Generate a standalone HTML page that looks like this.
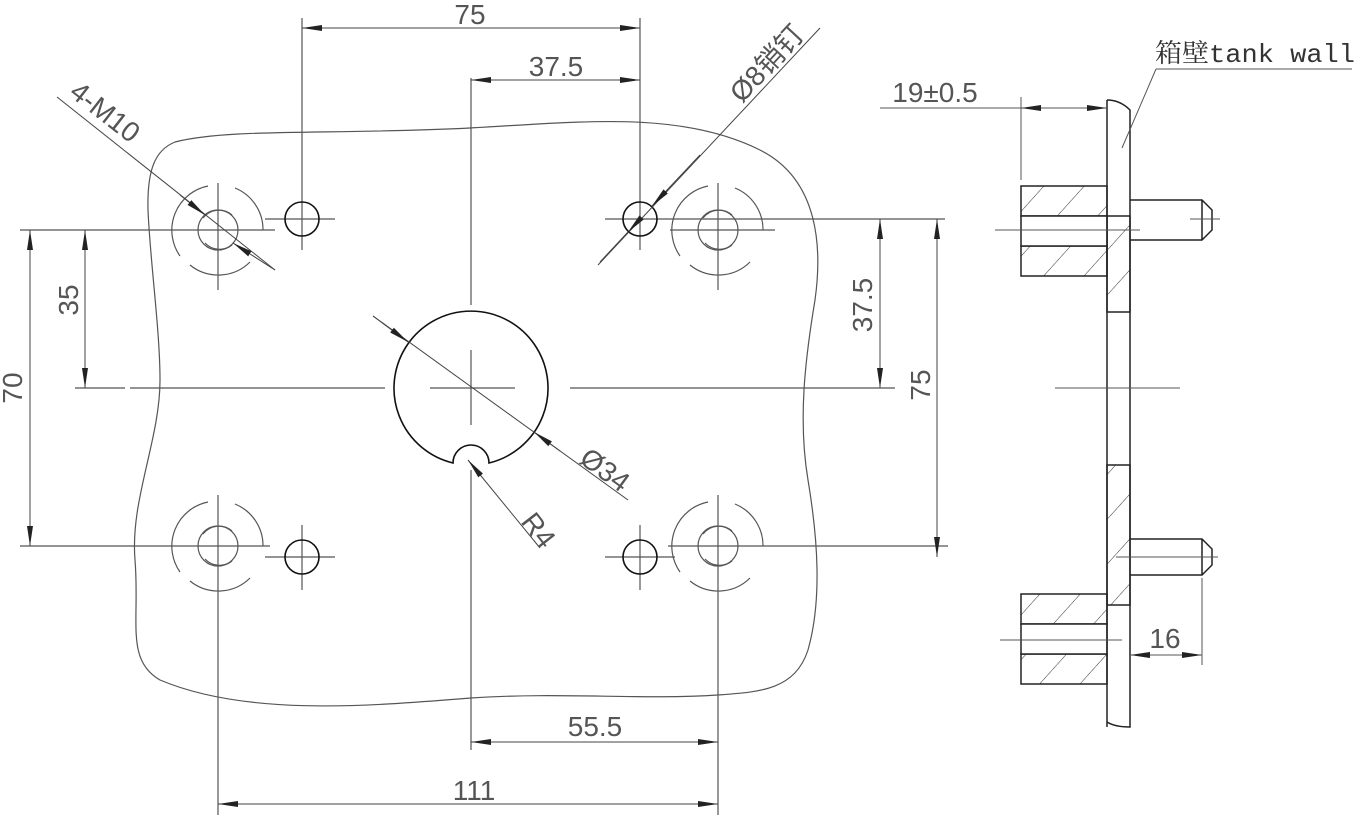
<!DOCTYPE html>
<html><head><meta charset="utf-8"><style>
html,body{margin:0;padding:0;background:#fff;}
svg{display:block;}
text{font-family:"Liberation Sans","Noto Sans CJK SC",sans-serif;fill:#555;font-size:28px;}
</style></head><body>
<svg width="1361" height="818" viewBox="0 0 1361 818" xmlns="http://www.w3.org/2000/svg">
<defs>
<marker id="a" viewBox="0 0 20 8" refX="20" refY="4" markerWidth="20" markerHeight="8" markerUnits="userSpaceOnUse" orient="auto"><path d="M0,1 L20,4 L0,7Z" fill="#222"/></marker>
<marker id="b" viewBox="0 0 20 8" refX="0" refY="4" markerWidth="20" markerHeight="8" markerUnits="userSpaceOnUse" orient="auto"><path d="M20,1 L0,4 L20,7Z" fill="#222"/></marker>
<pattern id="h" patternUnits="userSpaceOnUse" width="30" height="30" patternTransform="rotate(42)"><line x1="0" y1="0" x2="0" y2="30" stroke="#333" stroke-width="1"/></pattern>
</defs>
<g fill="none" stroke="#555" stroke-width="1.2">
<path d="M175,142 C230,128 330,135 470,128 C580,122 680,110 760,150 C820,180 822,250 815,300 C805,360 798,420 808,480 C818,540 822,600 808,650 C795,690 760,692 718,695 C640,700 560,692 471,698 C380,705 250,718 160,680 C125,660 140,620 135,560 C130,500 160,440 160,380 C160,330 150,260 148,210 C147,170 155,150 175,142Z"/>
<line x1="75" y1="388" x2="125" y2="388"/><line x1="130" y1="388" x2="385" y2="388"/>
<line x1="430" y1="388" x2="515" y2="388"/><line x1="570" y1="388" x2="895" y2="388"/>
<line x1="471" y1="78" x2="471" y2="305"/><line x1="471" y1="350" x2="471" y2="425"/><line x1="471" y1="470" x2="471" y2="750"/>
<line x1="20" y1="230" x2="275" y2="230"/><line x1="218" y1="183" x2="218" y2="290"/>
<line x1="20" y1="546" x2="270" y2="546"/><line x1="218" y1="495" x2="218" y2="815"/>
<line x1="670" y1="230" x2="775" y2="230"/><line x1="718" y1="183" x2="718" y2="290"/>
<line x1="668" y1="546" x2="948" y2="546"/><line x1="718" y1="495" x2="718" y2="815"/>
<line x1="265" y1="219" x2="335" y2="219"/><line x1="302" y1="18" x2="302" y2="250"/>
<line x1="265" y1="557" x2="335" y2="557"/><line x1="302" y1="525" x2="302" y2="590"/>
<line x1="605" y1="219" x2="945" y2="219"/><line x1="640" y1="18" x2="640" y2="250"/>
<line x1="605" y1="557" x2="675" y2="557"/><line x1="640" y1="525" x2="640" y2="590"/>
<g id="bh">
<circle cx="218" cy="230" r="20"/>
<path d="M203,218 A20,20 0 0 1 232,215"/><path d="M232,245 A20,20 0 0 1 205,243"/>
<path d="M180,256 A45,45 0 0 1 208,186"/><path d="M235,188 A45,45 0 0 1 263,230"/><path d="M250,262 A45,45 0 0 1 190,265"/>
</g>
<use href="#bh" x="500"/><use href="#bh" y="316"/><use href="#bh" x="500" y="316"/>
</g>
<g fill="none" stroke="#111" stroke-width="1.6">
<circle cx="302" cy="219" r="17"/><circle cx="640" cy="219" r="17"/>
<circle cx="302" cy="557" r="17"/><circle cx="640" cy="557" r="17"/>
<path d="M453,463 A77,77 0 1 1 489,463 A18,18 0 0 0 453,463Z"/>
</g>
<g fill="none" stroke="#444" stroke-width="1">
<line x1="302" y1="28" x2="640" y2="28" marker-start="url(#b)" marker-end="url(#a)"/>
<line x1="471" y1="80" x2="640" y2="80" marker-start="url(#b)" marker-end="url(#a)"/>
<line x1="471" y1="742" x2="718" y2="742" marker-start="url(#b)" marker-end="url(#a)"/>
<line x1="218" y1="804" x2="718" y2="804" marker-start="url(#b)" marker-end="url(#a)"/>
<line x1="30" y1="230" x2="30" y2="546" marker-start="url(#b)" marker-end="url(#a)"/>
<line x1="85" y1="230" x2="85" y2="388" marker-start="url(#b)" marker-end="url(#a)"/>
<line x1="880" y1="219" x2="880" y2="388" marker-start="url(#b)" marker-end="url(#a)"/>
<line x1="937" y1="219" x2="937" y2="557" marker-start="url(#b)" marker-end="url(#a)"/>
<line x1="57" y1="97" x2="275" y2="270"/>
<line x1="180" y1="195" x2="205" y2="215" marker-end="url(#a)"/>
<line x1="275" y1="270" x2="233" y2="243" marker-end="url(#a)"/>
<line x1="598" y1="265" x2="820" y2="28"/>
<line x1="700" y1="155" x2="652" y2="206" marker-end="url(#a)"/>
<line x1="600" y1="262" x2="628" y2="232" marker-end="url(#b)"/>
<line x1="373" y1="316" x2="628" y2="500"/>
<line x1="373" y1="316" x2="408" y2="342" marker-end="url(#a)"/>
<line x1="560" y1="451" x2="534" y2="432" marker-end="url(#a)"/>
<line x1="540" y1="548" x2="468" y2="460" marker-end="url(#a)"/>
</g>
<text x="470" y="24" text-anchor="middle">75</text>
<text x="556" y="76" text-anchor="middle">37.5</text>
<text x="595" y="736" text-anchor="middle">55.5</text>
<text x="474" y="800" text-anchor="middle">111</text>
<text transform="translate(22,388) rotate(-90)" text-anchor="middle">70</text>
<text transform="translate(78,300) rotate(-90)" text-anchor="middle">35</text>
<text transform="translate(872,305) rotate(-90)" text-anchor="middle">37.5</text>
<text transform="translate(930,385) rotate(-90)" text-anchor="middle">75</text>
<text transform="translate(68,95) rotate(38)">4-M10</text>
<text transform="translate(742,104) rotate(-47)">Ø8销钉</text>
<text transform="translate(578,462) rotate(36)">Ø34</text>
<text transform="translate(520,522) rotate(52)">R4</text>
<g fill="none" stroke="#222" stroke-width="1.5">
<rect x="1107" y="216" width="23" height="96" fill="url(#h)"/>
<rect x="1107" y="465" width="23" height="140" fill="url(#h)"/>
<rect x="1021" y="186" width="86" height="30" fill="url(#h)"/>
<rect x="1021" y="246" width="86" height="30" fill="url(#h)"/>
<rect x="1021" y="594" width="86" height="30" fill="url(#h)"/>
<rect x="1021" y="654" width="86" height="30" fill="url(#h)"/>
<rect x="1021" y="216" width="86" height="30" fill="#fff"/>
<rect x="1021" y="624" width="86" height="30" fill="#fff"/>
<path d="M1107,100 L1107,727"/>
<path d="M1107,100 Q1120,100 1130,110 L1130,727 Q1115,727 1107,722"/>
<path d="M1130,200 L1202,200 L1212,210 L1212,230 L1202,240 L1130,240 M1202,200 L1202,240"/>
<path d="M1130,539 L1202,539 L1212,549 L1212,565 L1202,575 L1130,575 M1202,539 L1202,575"/>
</g>
<g fill="none" stroke="#555" stroke-width="1">
<line x1="995" y1="230" x2="1140" y2="230"/><line x1="1190" y1="219" x2="1220" y2="219"/>
<line x1="1055" y1="388" x2="1180" y2="388"/>
<line x1="1116" y1="557" x2="1218" y2="557"/>
<line x1="1000" y1="640" x2="1122" y2="640"/>
<line x1="880" y1="108" x2="1021" y2="108"/>
<line x1="1021" y1="97" x2="1021" y2="180"/>
<line x1="1021" y1="108" x2="1107" y2="108" marker-start="url(#b)" marker-end="url(#a)"/>
<line x1="1156" y1="69" x2="1352" y2="69"/><line x1="1156" y1="69" x2="1122" y2="148"/>
<line x1="1202" y1="578" x2="1202" y2="665"/>
<line x1="1130" y1="655" x2="1202" y2="655" marker-start="url(#b)" marker-end="url(#a)"/>
</g>
<text x="935" y="102" text-anchor="middle">19±0.5</text>
<text x="1165" y="648" text-anchor="middle">16</text>
<text x="1155" y="62" style="font-family:'Liberation Mono','Noto Serif CJK SC',serif;font-size:26px;fill:#333" textLength="200" lengthAdjust="spacingAndGlyphs">箱壁tank wall</text>
</svg>
</body></html>
